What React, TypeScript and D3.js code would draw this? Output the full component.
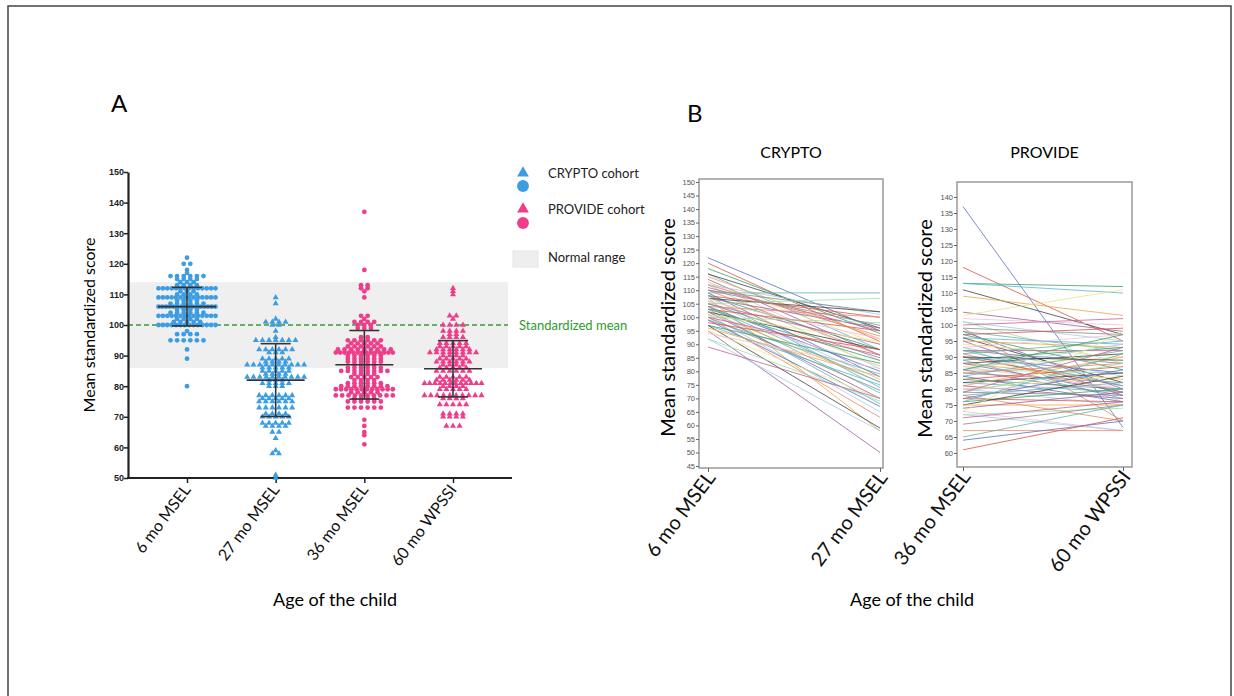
import { useEffect, useRef } from "react";
import * as d3 from "d3";

// ---- panel A data: [score, number of children at that score]
const categoriesA = ["6 mo MSEL", "27 mo MSEL", "36 mo MSEL", "60 mo WPSSI"];
const crypto6mo: [number, number][] = [
  [122, 1], [120, 2], [118, 1], [117, 1], [116, 6], [115, 4], [114, 3], [113, 4], [112, 14],
  [111, 3], [110, 4], [109, 14], [108, 4], [107, 6], [106, 16], [105, 4], [104, 6], [103, 14],
  [102, 4], [101, 5], [100, 14], [98, 1], [97, 4], [95, 6], [92, 1], [89, 1], [80, 1],
];
const crypto27mo: [number, number][] = [
  [109, 1], [107, 1], [102, 1], [101, 4], [100, 2], [98, 1], [96, 1], [95, 7], [92, 6], [91, 3],
  [89, 5], [88, 4], [87, 10], [86, 5], [85, 5], [84, 4], [83, 10], [82, 3], [81, 5], [80, 3],
  [77, 6], [76, 5], [75, 6], [73, 6], [71, 4], [70, 5], [68, 5], [67, 4], [65, 2], [63, 1],
  [59, 1], [58, 2], [51, 1], [50, 1],
];
const provide36mo: [number, number][] = [
  [137, 1], [118, 1], [113, 2], [112, 2], [111, 1], [109, 1], [103, 2], [102, 1], [101, 4],
  [100, 3], [99, 3], [96, 2], [95, 6], [94, 5], [93, 6], [92, 9], [91, 14], [90, 6], [89, 6],
  [88, 6], [87, 4], [86, 6], [85, 8], [84, 4], [83, 5], [82, 4], [81, 6], [80, 8], [79, 12],
  [78, 5], [77, 10], [76, 4], [75, 6], [73, 6], [69, 1], [67, 1], [65, 1], [64, 1], [61, 1],
];
const provide60mo: [number, number][] = [
  [112, 1], [111, 1], [110, 1], [103, 2], [102, 1], [100, 4], [98, 4], [97, 2], [96, 4], [94, 5],
  [93, 5], [92, 6], [91, 8], [90, 4], [89, 5], [88, 6], [87, 4], [86, 5], [85, 6], [83, 5],
  [82, 6], [81, 12], [80, 4], [79, 5], [77, 10], [76, 4], [74, 5], [71, 4], [70, 4], [67, 3],
];
const groupMeans = [106, 82, 87, 85.7];
const groupSDs = [6.3, 11.9, 11.2, 9.2];
const yTicksA = [50, 60, 70, 80, 90, 100, 110, 120, 130, 140, 150];
const normalRange = [86, 114];
const standardizedMean = 100;

// ---- panel B data: [first visit, second visit]
const cryptoVisits = ["6 mo MSEL", "27 mo MSEL"];
const provideVisits = ["36 mo MSEL", "60 mo WPSSI"];
const cryptoPairs: [number, number][] = [
  [122, 95], [120, 91], [118, 94], [116, 88], [116, 96], [115, 92], [114, 86], [113, 90],
  [113, 84], [112, 101], [112, 81], [111, 95], [110, 102], [110, 86], [109, 109], [109, 78],
  [108, 100], [108, 88], [108, 74], [107, 102], [107, 58], [107, 96], [107, 82], [106, 92],
  [106, 77], [105, 107], [105, 90], [105, 85], [104, 100], [104, 72], [104, 80], [103, 95],
  [103, 84], [103, 68], [102, 88], [102, 76], [102, 70], [101, 91], [101, 82], [101, 65],
  [100, 98], [100, 86], [100, 73], [100, 63], [99, 79], [99, 67], [98, 88], [97, 83], [97, 75],
  [97, 59], [96, 78], [95, 50], [95, 70], [94, 81], [92, 58], [92, 69], [89, 70], [110, 97],
  [112, 93], [104, 76],
];
const providePairs: [number, number][] = [
  [137, 68], [118, 95], [113, 112], [113, 110], [111, 97], [109, 103], [104, 98], [103, 111],
  [102, 100], [101, 95], [101, 88], [100, 102], [99, 97], [99, 70], [98, 92], [98, 80], [97, 99],
  [97, 86], [96, 94], [96, 82], [95, 93], [95, 78], [94, 90], [93, 97], [93, 84], [93, 76],
  [92, 92], [92, 88], [91, 79], [91, 95], [90, 85], [90, 81], [89, 93], [89, 77], [88, 91],
  [88, 83], [88, 79], [87, 90], [87, 80], [86, 94], [86, 85], [86, 78], [85, 82], [85, 88],
  [84, 92], [84, 76], [83, 87], [83, 80], [82, 79], [82, 85], [81, 90], [81, 77], [80, 84],
  [80, 81], [80, 75], [79, 88], [79, 93], [79, 78], [78, 70], [78, 82], [77, 86], [77, 76],
  [76, 80], [76, 91], [75, 84], [75, 75], [74, 79], [73, 98], [73, 67], [72, 67], [72, 74],
  [71, 76], [69, 75], [67, 67], [65, 75], [64, 70], [61, 71], [86, 97], [92, 81], [90, 89],
];
const cryptoTicks = d3.range(45, 151, 5);
const provideTicks = d3.range(60, 141, 5);
const lineColors = [
  "#5a6fc0", "#d9544c", "#3aa06a", "#5ab4d2", "#444444", "#f0a640", "#9b5f9b", "#eee488",
  "#f2bfd8", "#a9c8e8", "#9ee0a8", "#c2609a", "#8a8a8a", "#e58a6a", "#6ab0aa",
];

const BLUE = "#3d9de3";
const PINK = "#ee3d8a";
const LABEL_FONT = "Lato, 'Open Sans', sans-serif";

export default function App() {
  const ref = useRef<SVGSVGElement>(null);

  useEffect(() => {
    const svg = d3.select(ref.current);
    svg.selectAll("*").remove();

    // page frame
    svg.append("rect").attr("x", 8).attr("y", 6).attr("width", 1223).attr("height", 720)
      .attr("fill", "none").attr("stroke", "#444").attr("stroke-width", 1.5);

    // ================= Panel A =================
    const yA = d3.scaleLinear().domain([50, 150]).range([478, 172]);
    const xA = d3.scalePoint().domain(categoriesA).range([187, 453]);
    const a = svg.append("g");

    a.append("text").attr("x", 111).attr("y", 112).text("A")
      .style("font-family", LABEL_FONT).style("font-size", "24px");

    a.append("rect").attr("x", 128).attr("width", 380)
      .attr("y", yA(normalRange[1])).attr("height", yA(normalRange[0]) - yA(normalRange[1]))
      .attr("fill", "#efefef");

    a.append("line").attr("x1", 128).attr("x2", 508)
      .attr("y1", yA(standardizedMean)).attr("y2", yA(standardizedMean))
      .attr("stroke", "#3b9a3b").attr("stroke-width", 1.5).attr("stroke-dasharray", "5,3");
    a.append("text").attr("x", 519).attr("y", yA(standardizedMean) + 2).text("Standardized mean")
      .attr("fill", "#2f9a2f").attr("dominant-baseline", "middle")
      .style("font-family", LABEL_FONT).style("font-size", "13px");

    // axes
    const yAxisA = d3.axisLeft(yA).tickValues(yTicksA).tickSize(4).tickSizeOuter(0);
    const gy = a.append("g").attr("transform", "translate(128,0)").call(yAxisA);
    gy.select(".domain").attr("stroke-width", 2.2).attr("stroke", "#222");
    gy.selectAll(".tick line").attr("stroke-width", 1.5).attr("stroke", "#222");
    gy.selectAll(".tick text").attr("x", -4).style("font-family", "'Liberation Sans', Arial")
      .style("font-size", "9px").style("font-weight", "bold").attr("fill", "#222");

    const xAxisA = d3.axisBottom(xA).tickSize(5).tickSizeOuter(0);
    const gx = a.append("g").attr("transform", `translate(0,${yA(50)})`).call(xAxisA);
    gx.select(".domain").attr("d", `M127,0H512`).attr("stroke-width", 2.2).attr("stroke", "#222");
    gx.selectAll(".tick line").attr("stroke-width", 1.5).attr("stroke", "#222");
    gx.selectAll(".tick text").attr("y", 0).attr("dy", 0)
      .attr("transform", "translate(4,12) rotate(-53)").style("text-anchor", "end")
      .style("font-family", LABEL_FONT).style("font-size", "16px").attr("fill", "#111");

    a.append("text").attr("transform", `translate(95,${yA(100)}) rotate(-90)`)
      .attr("text-anchor", "middle").text("Mean standardized score")
      .style("font-family", LABEL_FONT).style("font-size", "16px");
    a.append("text").attr("x", 335).attr("y", 606).attr("text-anchor", "middle")
      .text("Age of the child").style("font-family", LABEL_FONT).style("font-size", "18px");

    // beeswarm points
    const groups = [crypto6mo, crypto27mo, provide36mo, provide60mo];
    const shapes = [d3.symbolCircle, d3.symbolTriangle, d3.symbolCircle, d3.symbolTriangle];
    const fills = [BLUE, BLUE, PINK, PINK];
    groups.forEach((rows, gi) => {
      const cx = xA(categoriesA[gi]) as number;
      const pts: { x: number; y: number }[] = [];
      rows.forEach(([score, n]) => {
        const s = n > 1 ? Math.min(6.6, 57 / (n - 1)) : 0;
        for (let i = 0; i < n; i++) pts.push({ x: cx + (i - (n - 1) / 2) * s, y: yA(score) });
      });
      const sym = d3.symbol().type(shapes[gi]).size(shapes[gi] === d3.symbolCircle ? 18 : 16);
      a.append("g").selectAll("path").data(pts).enter().append("path")
        .attr("d", sym).attr("transform", (d) => `translate(${d.x},${d.y})`)
        .attr("fill", fills[gi]);

      // mean and SD bars
      const m = groupMeans[gi], sd = groupSDs[gi];
      const eb = a.append("g").attr("stroke", "#333").attr("stroke-width", 1.6);
      eb.append("line").attr("x1", cx - 29).attr("x2", cx + 29).attr("y1", yA(m)).attr("y2", yA(m));
      eb.append("line").attr("x1", cx).attr("x2", cx).attr("y1", yA(m + sd)).attr("y2", yA(m - sd));
      [m + sd, m - sd].forEach((v) => {
        eb.append("line").attr("x1", cx - 15).attr("x2", cx + 15).attr("y1", yA(v)).attr("y2", yA(v));
      });
    });

    // legend
    const lg = a.append("g");
    const tri = d3.symbol().type(d3.symbolTriangle).size(60);
    const circ = d3.symbol().type(d3.symbolCircle).size(110);
    lg.append("path").attr("d", tri).attr("transform", "translate(523,173)").attr("fill", BLUE);
    lg.append("path").attr("d", circ).attr("transform", "translate(523,186)").attr("fill", BLUE);
    lg.append("path").attr("d", tri).attr("transform", "translate(523,209)").attr("fill", PINK);
    lg.append("path").attr("d", circ).attr("transform", "translate(523,223)").attr("fill", PINK);
    lg.append("rect").attr("x", 513).attr("y", 251).attr("width", 25).attr("height", 16)
      .attr("fill", "#eeeeee").attr("stroke", "#e6e6e6");
    [["CRYPTO cohort", 175], ["PROVIDE cohort", 211], ["Normal range", 259]].forEach(([t, y]) => {
      lg.append("text").attr("x", 548).attr("y", y as number).attr("dominant-baseline", "middle")
        .text(t as string).style("font-family", LABEL_FONT).style("font-size", "13px").attr("fill", "#222");
    });

    // ================= Panel B =================
    svg.append("text").attr("x", 687).attr("y", 122).text("B")
      .style("font-family", LABEL_FONT).style("font-size", "24px");

    const drawPanel = (
      title: string, visits: string[], pairs: [number, number][], ticks: number[],
      domain: [number, number], yRange: [number, number], frame: [number, number, number, number],
      xRange: [number, number], labelX: number,
    ) => {
      const y = d3.scaleLinear().domain(domain).range(yRange);
      const x = d3.scalePoint().domain(visits).range(xRange);
      const [fx0, fy0, fx1, fy1] = frame;
      const g = svg.append("g");
      g.append("text").attr("x", (fx0 + fx1) / 2).attr("y", 158).attr("text-anchor", "middle")
        .text(title).style("font-family", LABEL_FONT).style("font-size", "16px");
      g.append("rect").attr("x", fx0).attr("y", fy0).attr("width", fx1 - fx0).attr("height", fy1 - fy0)
        .attr("fill", "white").attr("stroke", "#999").attr("stroke-width", 1.5);

      const line = d3.line<number>().x((_, i) => x(visits[i]) as number).y((d) => y(d));
      g.append("g").selectAll("path").data(pairs).enter().append("path")
        .attr("d", (d) => line(d))
        .attr("fill", "none").attr("stroke", (_, i) => lineColors[i % lineColors.length])
        .attr("stroke-width", 1).attr("stroke-opacity", 0.8);

      const ya = g.append("g").attr("transform", `translate(${fx0},0)`)
        .call(d3.axisLeft(y).tickValues(ticks).tickSize(3).tickSizeOuter(0));
      ya.select(".domain").remove();
      ya.selectAll(".tick line").attr("stroke", "#666");
      ya.selectAll(".tick text").attr("x", -4).style("font-family", "'Liberation Sans', Arial")
        .style("font-size", "7.5px").attr("fill", "#555");

      const xa = g.append("g").attr("transform", `translate(0,${fy1})`)
        .call(d3.axisBottom(x).tickSize(4).tickSizeOuter(0));
      xa.select(".domain").remove();
      xa.selectAll(".tick line").attr("stroke", "#666");
      xa.selectAll(".tick text").attr("y", 0).attr("dy", 0)
        .attr("transform", "translate(8,10) rotate(-53)").style("text-anchor", "end")
        .style("font-family", LABEL_FONT).style("font-size", "20px").attr("fill", "#111");

      g.append("text").attr("transform", `translate(${labelX},${(fy0 + fy1) / 2 + 4}) rotate(-90)`)
        .attr("text-anchor", "middle").text("Mean standardized score")
        .style("font-family", LABEL_FONT).style("font-size", "20px");
    };

    drawPanel("CRYPTO", cryptoVisits, cryptoPairs, cryptoTicks, [45, 150], [466, 182],
      [699, 179, 883, 468], [708, 880], 675);
    drawPanel("PROVIDE", provideVisits, providePairs, provideTicks, [60, 140], [453, 197],
      [957, 182, 1132, 467], [963, 1123], 932);

    svg.append("text").attr("x", 912).attr("y", 606).attr("text-anchor", "middle")
      .text("Age of the child").style("font-family", LABEL_FONT).style("font-size", "18px");
  }, []);

  return (
    <svg ref={ref} width={1234} height={696}
      style={{ position: "absolute", left: 0, top: 0, background: "white" }} />
  );
}
